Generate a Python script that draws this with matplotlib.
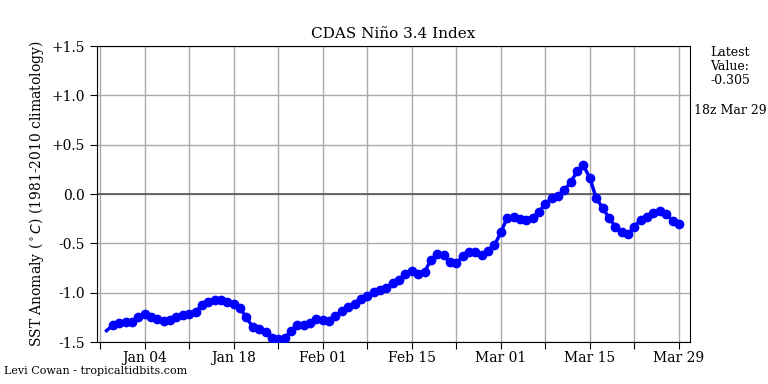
import numpy as np
import pandas as pd
from matplotlib import pyplot as plt
import matplotlib.dates as mdates

plt.rcParams['font.family'] = ['DejaVu Serif']

# daily values, Dec 29 2024 .. Mar 29 2025
start_date = '2024-12-29'
end_date = '2025-03-29'
values_dec = [-1.385, -1.33, -1.31]
values_jan = [-1.30, -1.30, -1.25, -1.22, -1.25, -1.27, -1.29, -1.28, -1.25, -1.23,
              -1.22, -1.20, -1.12, -1.09, -1.07, -1.07, -1.09, -1.11, -1.16, -1.25,
              -1.35, -1.37, -1.40, -1.46, -1.47, -1.46, -1.39, -1.33, -1.33, -1.31,
              -1.27]
values_feb = [-1.28, -1.29, -1.24, -1.19, -1.15, -1.11, -1.06, -1.03, -0.99, -0.97,
              -0.95, -0.90, -0.87, -0.81, -0.78, -0.81, -0.79, -0.67, -0.61, -0.62,
              -0.69, -0.70, -0.63, -0.59, -0.59, -0.62, -0.58, -0.52]
values_mar = [-0.39, -0.24, -0.23, -0.25, -0.26, -0.24, -0.18, -0.10, -0.04, -0.02,
              0.04, 0.12, 0.23, 0.29, 0.16, -0.04, -0.14, -0.24, -0.33, -0.39,
              -0.41, -0.33, -0.26, -0.23, -0.19, -0.17, -0.20, -0.27, -0.305]

yticks = [-1.5, -1.0, -0.5, 0.0, 0.5, 1.0, 1.5]
ytick_labels = ['-1.5', '-1.0', '-0.5', '0.0', '+0.5', '+1.0', '+1.5']
latest_value = '-0.305'
latest_time = '18z Mar 29'

dates = pd.date_range(start_date, end_date, freq='D')
values = values_dec + values_jan + values_feb + values_mar

fig = plt.figure(figsize=(7.68, 3.84), dpi=100)
ax = fig.add_axes([97 / 768, 1 - 342 / 384, (690 - 97) / 768, (342 - 46) / 384])

ax.axhline(0, color='#555555', lw=1.2, zorder=2)
ax.plot(dates, values, color='blue', lw=2.5, zorder=3)
ax.plot(dates[1:], values[1:], 'o', color='blue', ms=6, zorder=4)

ax.set_ylim(-1.5, 1.5)
ax.set_yticks(yticks)
ax.set_yticklabels(ytick_labels)
ax.set_xlim(pd.Timestamp('2024-12-27 12:00'), pd.Timestamp('2025-03-30 18:00'))

week_ticks = pd.date_range('2024-12-28', '2025-03-29', freq='7D')
ax.set_xticks(week_ticks)
ax.set_xticklabels([d.strftime('%b %d') if i % 2 == 1 else '' for i, d in enumerate(week_ticks)])

ax.grid(color='#aaaaaa', lw=1, zorder=1)
ax.tick_params(labelsize=10, length=5)
ax.tick_params(axis='x', pad=1.5)

ax.set_title('CDAS Niño 3.4 Index', fontsize=11)
ax.set_ylabel('SST Anomaly ($^\\circ C$) (1981-2010 climatology)', fontsize=10)

fig.text(730 / 768, 1 - 46 / 384, 'Latest\nValue:\n' + latest_value, ha='center', va='top',
         fontsize=9, linespacing=1.1)
fig.text(730 / 768, 1 - 111 / 384, latest_time, ha='center', va='center', fontsize=9)
fig.text(4 / 768, 1 - 371 / 384, 'Levi Cowan - tropicaltidbits.com', ha='left', va='center',
         fontsize=8)

fig.savefig('out.png', dpi=100)
